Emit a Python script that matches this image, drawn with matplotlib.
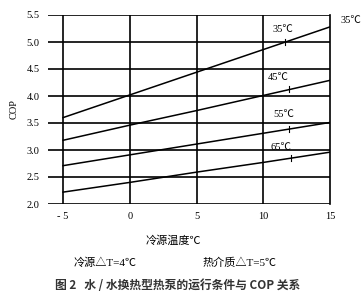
import numpy as np
import matplotlib.pyplot as plt

plt.rcParams['font.family'] = ['Liberation Serif', 'Noto Sans CJK SC']

# cold source temperature (C) and COP per supply water temperature
src_temp = [-5, 0, 5, 10, 15]
cop_35 = [3.60, 4.02, 4.44, 4.86, 5.28]
cop_45 = [3.18, 3.46, 3.73, 4.01, 4.29]
cop_55 = [2.71, 2.91, 3.11, 3.31, 3.51]
cop_65 = [2.22, 2.40, 2.59, 2.77, 2.96]
curves = [cop_35, cop_45, cop_55, cop_65]
curve_names = ['35℃', '45℃', '55℃', '65℃']
label_x = [11.5, 11.1, 11.5, 11.3]
label_y = [5.24, 4.35, 3.65, 3.04]
mark_x = [11.6, 11.9, 11.9, 12.1]

yticks = [2.0, 2.5, 3.0, 3.5, 4.0, 4.5, 5.0, 5.5]
xticks = [-5, 0, 5, 10, 15]

fig = plt.figure(figsize=(3.62, 3.0), dpi=100)
ax = fig.add_axes([0.1326, 0.32, 0.779, 0.63])

for ys, name, lx, ly, mx in zip(curves, curve_names, label_x, label_y, mark_x):
    ax.plot(src_temp, ys, color='black', lw=1.1)
    my = np.interp(mx, src_temp, ys)
    ax.plot([mx, mx], [my - 0.05, my + 0.06], color='black', lw=0.8)
    ax.text(lx, ly, name, fontsize=7.5, ha='center', va='center')

ax.text(16.6, 5.39, '35℃', fontsize=7.5, ha='center', va='center', clip_on=False)

for v in [-5, 0, 5, 10]:
    ax.axvline(v, color='black', lw=1.2)
for v in yticks:
    ax.axhline(v, color='black', lw=1.2)

ax.set_xlim(-6.13, 15)
ax.set_ylim(2.0, 5.5)
ax.set_xticks(xticks)
ax.set_xticklabels(['- 5', '0', '5', '10', '15'])
ax.set_yticks(yticks)
ax.set_yticklabels([f'{v:.1f}' for v in yticks])
ax.tick_params(length=0, labelsize=7.5, pad=6)
for s in ['left', 'top', 'bottom']:
    ax.spines[s].set_visible(False)
ax.spines['right'].set_linewidth(1.2)
ax.set_ylabel('COP', fontsize=7.5, labelpad=6)

fig.text(0.478, 0.197, '冷源温度℃', fontsize=8, ha='center', va='center')
fig.text(0.29, 0.123, '冷源△T=4℃', fontsize=8, ha='center', va='center')
fig.text(0.663, 0.123, '热介质△T=5℃', fontsize=8, ha='center', va='center')
fig.text(0.49, 0.047, '图 2   水 / 水换热型热泵的运行条件与 COP 关系', fontsize=8.5,
         ha='center', va='center', color='#333333', fontweight='bold',
         family=['Noto Sans CJK SC'])

fig.savefig('out.png', dpi=100)
